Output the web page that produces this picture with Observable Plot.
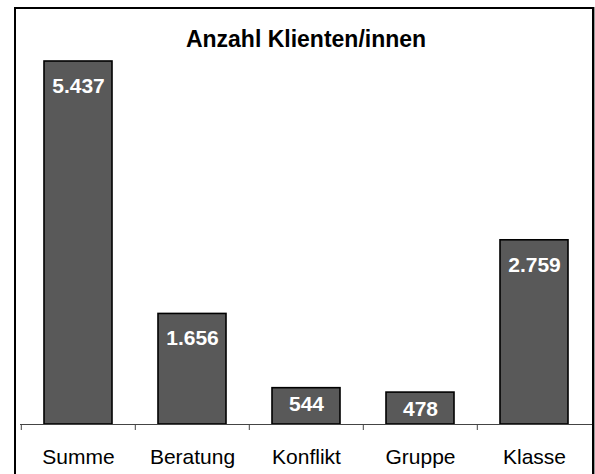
<!DOCTYPE html>
<html>
<head>
<meta charset="utf-8">
<script src="https://cdn.jsdelivr.net/npm/d3@7"></script>
<script src="https://cdn.jsdelivr.net/npm/@observablehq/plot@0.6"></script>
<style>
  html, body { margin: 0; padding: 0; background: #fff; overflow: hidden; width: 595px; height: 474px; }
  body { position: relative; font-family: "Liberation Sans", Arial, sans-serif; }
  #frame { position: absolute; left: 14px; top: 7px; width: 576px; height: 520px;
           border: 2px solid #000; box-shadow: 1px 0 0 #999; box-sizing: content-box; }
  #title { position: absolute; left: 0; top: 27px; width: 612px; text-align: center;
           font-size: 23px; font-weight: bold; color: #000; line-height: 24px; }
  #chart { position: absolute; left: 0; top: 0; }
</style>
</head>
<body>
<div id="frame"></div>
<div id="title">Anzahl Klienten/innen</div>
<div id="chart"></div>
<script>
const categories = ["Summe", "Beratung", "Konflikt", "Gruppe", "Klasse"];
const values = [5437, 1656, 544, 478, 2759];

const data = categories.map((c, i) => ({category: c, value: values[i]}));
const de = d3.formatLocale({decimal: ",", thousands: ".", grouping: [3], currency: ["", " €"]});
const fmt = de.format(",");

const W = 595, H = 474, mL = 20, mR = 3, mT = 61, mB = 50;
const step = (W - mL - mR) / categories.length;
const fontFam = "Liberation Sans, Arial, sans-serif";

const chart = Plot.plot({
  width: W,
  height: H,
  marginLeft: mL,
  marginRight: mR,
  marginTop: mT,
  marginBottom: mB,
  style: {fontFamily: fontFam, background: "transparent"},
  x: {domain: categories, paddingInner: 0.4, paddingOuter: 0.2, axis: null, label: null},
  y: {domain: [0, d3.max(values)], axis: null, label: null},
  marks: [
    Plot.barY(data, {x: "category", y: "value", fill: "#595959", stroke: "#000", strokeWidth: 1.6}),
    Plot.ruleY([0], {stroke: "#444", strokeWidth: 1}),
    Plot.axisX({tickSize: 6, tickFormat: () => "", label: null, dx: -step / 2, stroke: "#444", strokeWidth: 1}),
    Plot.text(categories, {x: d => d, y: () => 0, lineAnchor: "top", dy: 24.5, fontSize: 21, fill: "#000"}),
    Plot.text(data.filter(d => d.value >= 1000), {
      x: "category", y: "value", text: d => fmt(d.value), lineAnchor: "top", dy: 16.5,
      fill: "#fff", fontWeight: "bold", fontSize: 21
    }),
    Plot.text(data.filter(d => d.value < 1000), {
      x: "category", y: "value", text: d => fmt(d.value), lineAnchor: "top", dy: 8,
      fill: "#fff", fontWeight: "bold", fontSize: 21
    })
  ]
});
document.getElementById("chart").appendChild(chart);
</script>
</body>
</html>
